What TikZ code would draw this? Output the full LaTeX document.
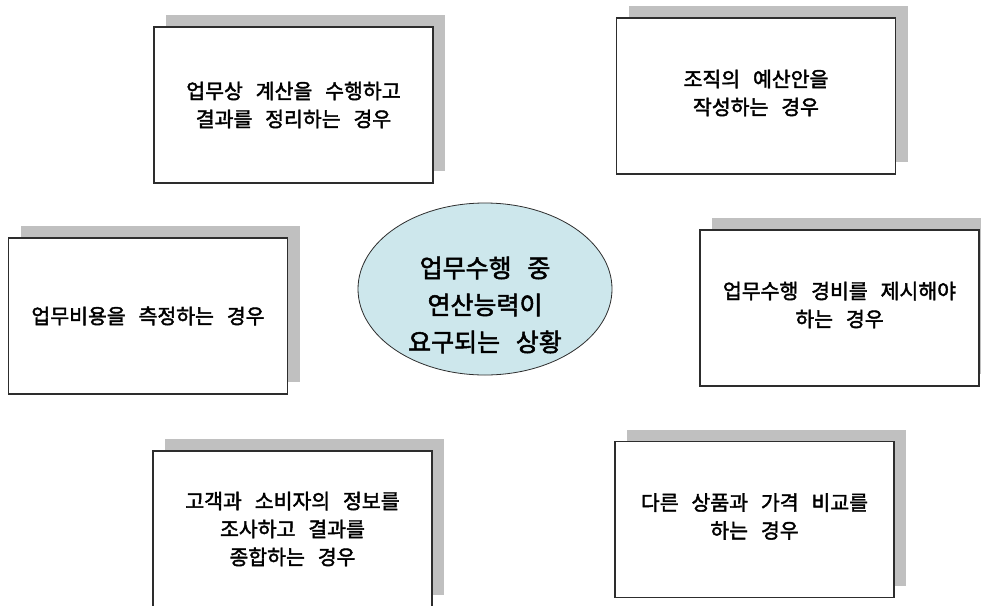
\documentclass[tikz,border=0pt]{standalone}
\usepackage{fontspec}
\newfontfamily\kr[WordSpace=2.8, FakeBold=2]{Noto Sans CJK KR}
\usetikzlibrary{shapes.geometric}
\definecolor{shadowgray}{RGB}{192,192,192}
\definecolor{ovalfill}{RGB}{205,231,236}
\definecolor{edgegray}{RGB}{45,45,45}
\tikzset{
  casebox/.style={draw=edgegray, line width=1.3pt, fill=white, inner sep=0pt,
    minimum width=279pt, minimum height=156pt, align=center,
    font=\kr\fontsize{20.5}{28}\selectfont},
  shadowbox/.style={fill=shadowgray, inner sep=0pt, minimum width=279pt, minimum height=156pt},
  centeroval/.style={ellipse, draw=edgegray, line width=0.8pt, fill=ovalfill, inner sep=0pt,
    minimum width=254pt, minimum height=172pt, align=center,
    font=\kr\fontsize{25}{37}\selectfont}
}
\begin{document}
\begin{tikzpicture}[x=1pt,y=-1pt]
\useasboundingbox (0,0) rectangle (981,605);
\clip (0,0) rectangle (981,605);
\fill[white] (0,0) rectangle (981,605);
% shadows
\node[shadowbox] (s1) at (305.5,93) {};
\node[shadowbox] (s2) at (768,84) {};
\node[shadowbox] (s3) at (160,304) {};
\node[shadowbox] (s4) at (851.5,296) {};
\node[shadowbox] (s5) at (304.5,517) {};
\node[shadowbox] (s6) at (766.5,507.5) {};
% boxes
\node[casebox] (b1) at (293.5,105) {업무상 계산을 수행하고\\결과를 정리하는 경우};
\node[casebox] (b2) at (756,96) {\raisebox{3pt}[\height][\depth]{\parbox{180pt}{\centering 조직의 예산안을\\작성하는 경우}}};
\node[casebox] (b3) at (148,316) {업무비용을 측정하는 경우};
\node[casebox] (b4) at (839.5,308) {\raisebox{3pt}[\height][\depth]{\parbox{265pt}{\centering 업무수행 경비를 제시해야\\하는 경우}}};
\node[casebox] (b5) at (292.5,529) {고객과 소비자의 정보를\\조사하고 결과를\\종합하는 경우};
\node[casebox] (b6) at (754.5,519.5) {\raisebox{3pt}[\height][\depth]{\parbox{260pt}{\centering 다른 상품과 가격 비교를\\하는 경우}}};
% center
\node[centeroval] (c) at (485,289) {\raisebox{-16pt}[\height][\depth]{\parbox{170pt}{\centering 업무수행 중\\연산능력이\hspace*{16pt}\\요구되는 상황}}};
\end{tikzpicture}
\end{document}
